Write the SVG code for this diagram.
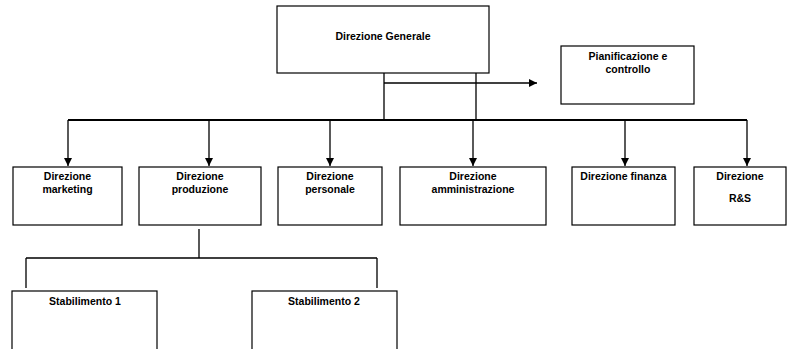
<svg xmlns="http://www.w3.org/2000/svg" width="787" height="349" viewBox="0 0 787 349">
<style>
.box{fill:#fff;stroke:#000;stroke-width:1.2}
.t{font-family:"Liberation Sans",Arial,sans-serif;font-size:10.5px;font-weight:bold;fill:#000;text-anchor:middle}
.ln{fill:none;stroke:#000;stroke-width:1.3}
.thk{fill:none;stroke:#000;stroke-width:2}
</style>
<defs>
<marker id="ah" viewBox="0 0 10 10" refX="10" refY="5" markerWidth="8" markerHeight="8" markerUnits="userSpaceOnUse" orient="auto">
<path d="M0,0 L10,5 L0,10 z" fill="#000"/>
</marker>
</defs>
<g id="connectors">
<path class="ln" d="M384,73 V120 M476,73 V120"/>
<path class="ln" d="M384,83 H537" marker-end="url(#ah)"/>
<path class="thk" d="M68,120 H747"/>
<path class="ln" d="M68,120 V166" marker-end="url(#ah)"/>
<path class="ln" d="M209,120 V166" marker-end="url(#ah)"/>
<path class="ln" d="M330,120 V166" marker-end="url(#ah)"/>
<path class="ln" d="M473,120 V166" marker-end="url(#ah)"/>
<path class="ln" d="M625,120 V166" marker-end="url(#ah)"/>
<path class="ln" d="M747,120 V166" marker-end="url(#ah)"/>
<path class="ln" d="M199,229 V258 M26,258 H377 M26,258 V288 M377,258 V288"/>
</g>
<g id="dg"><rect class="box" x="277" y="6" width="212" height="67"/><text class="t" x="383" y="40">Direzione Generale</text></g>
<g id="pc"><rect class="box" x="561" y="46" width="133" height="58"/><text class="t" x="628" y="60">Pianificazione e</text><text class="t" x="628" y="73">controllo</text></g>
<g id="mkt"><rect class="box" x="13" y="167" width="109" height="58"/><text class="t" x="67.5" y="180">Direzione</text><text class="t" x="67.5" y="193">marketing</text></g>
<g id="prod"><rect class="box" x="139" y="167" width="122" height="58"/><text class="t" x="200" y="180">Direzione</text><text class="t" x="200" y="193">produzione</text></g>
<g id="pers"><rect class="box" x="278" y="167" width="104" height="58"/><text class="t" x="330" y="180">Direzione</text><text class="t" x="330" y="193">personale</text></g>
<g id="amm"><rect class="box" x="400" y="167" width="146" height="58"/><text class="t" x="473" y="180">Direzione</text><text class="t" x="473" y="193">amministrazione</text></g>
<g id="fin"><rect class="box" x="572" y="167" width="103" height="58"/><text class="t" x="623.5" y="180">Direzione finanza</text></g>
<g id="rs"><rect class="box" x="694" y="167" width="92" height="58"/><text class="t" x="740" y="180">Direzione</text><text class="t" x="740" y="202">R&amp;S</text></g>
<g id="st1"><rect class="box" x="12" y="291" width="145" height="70"/><text class="t" x="85" y="305">Stabilimento 1</text></g>
<g id="st2"><rect class="box" x="252" y="291" width="145" height="70"/><text class="t" x="324" y="305">Stabilimento 2</text></g>
</svg>
